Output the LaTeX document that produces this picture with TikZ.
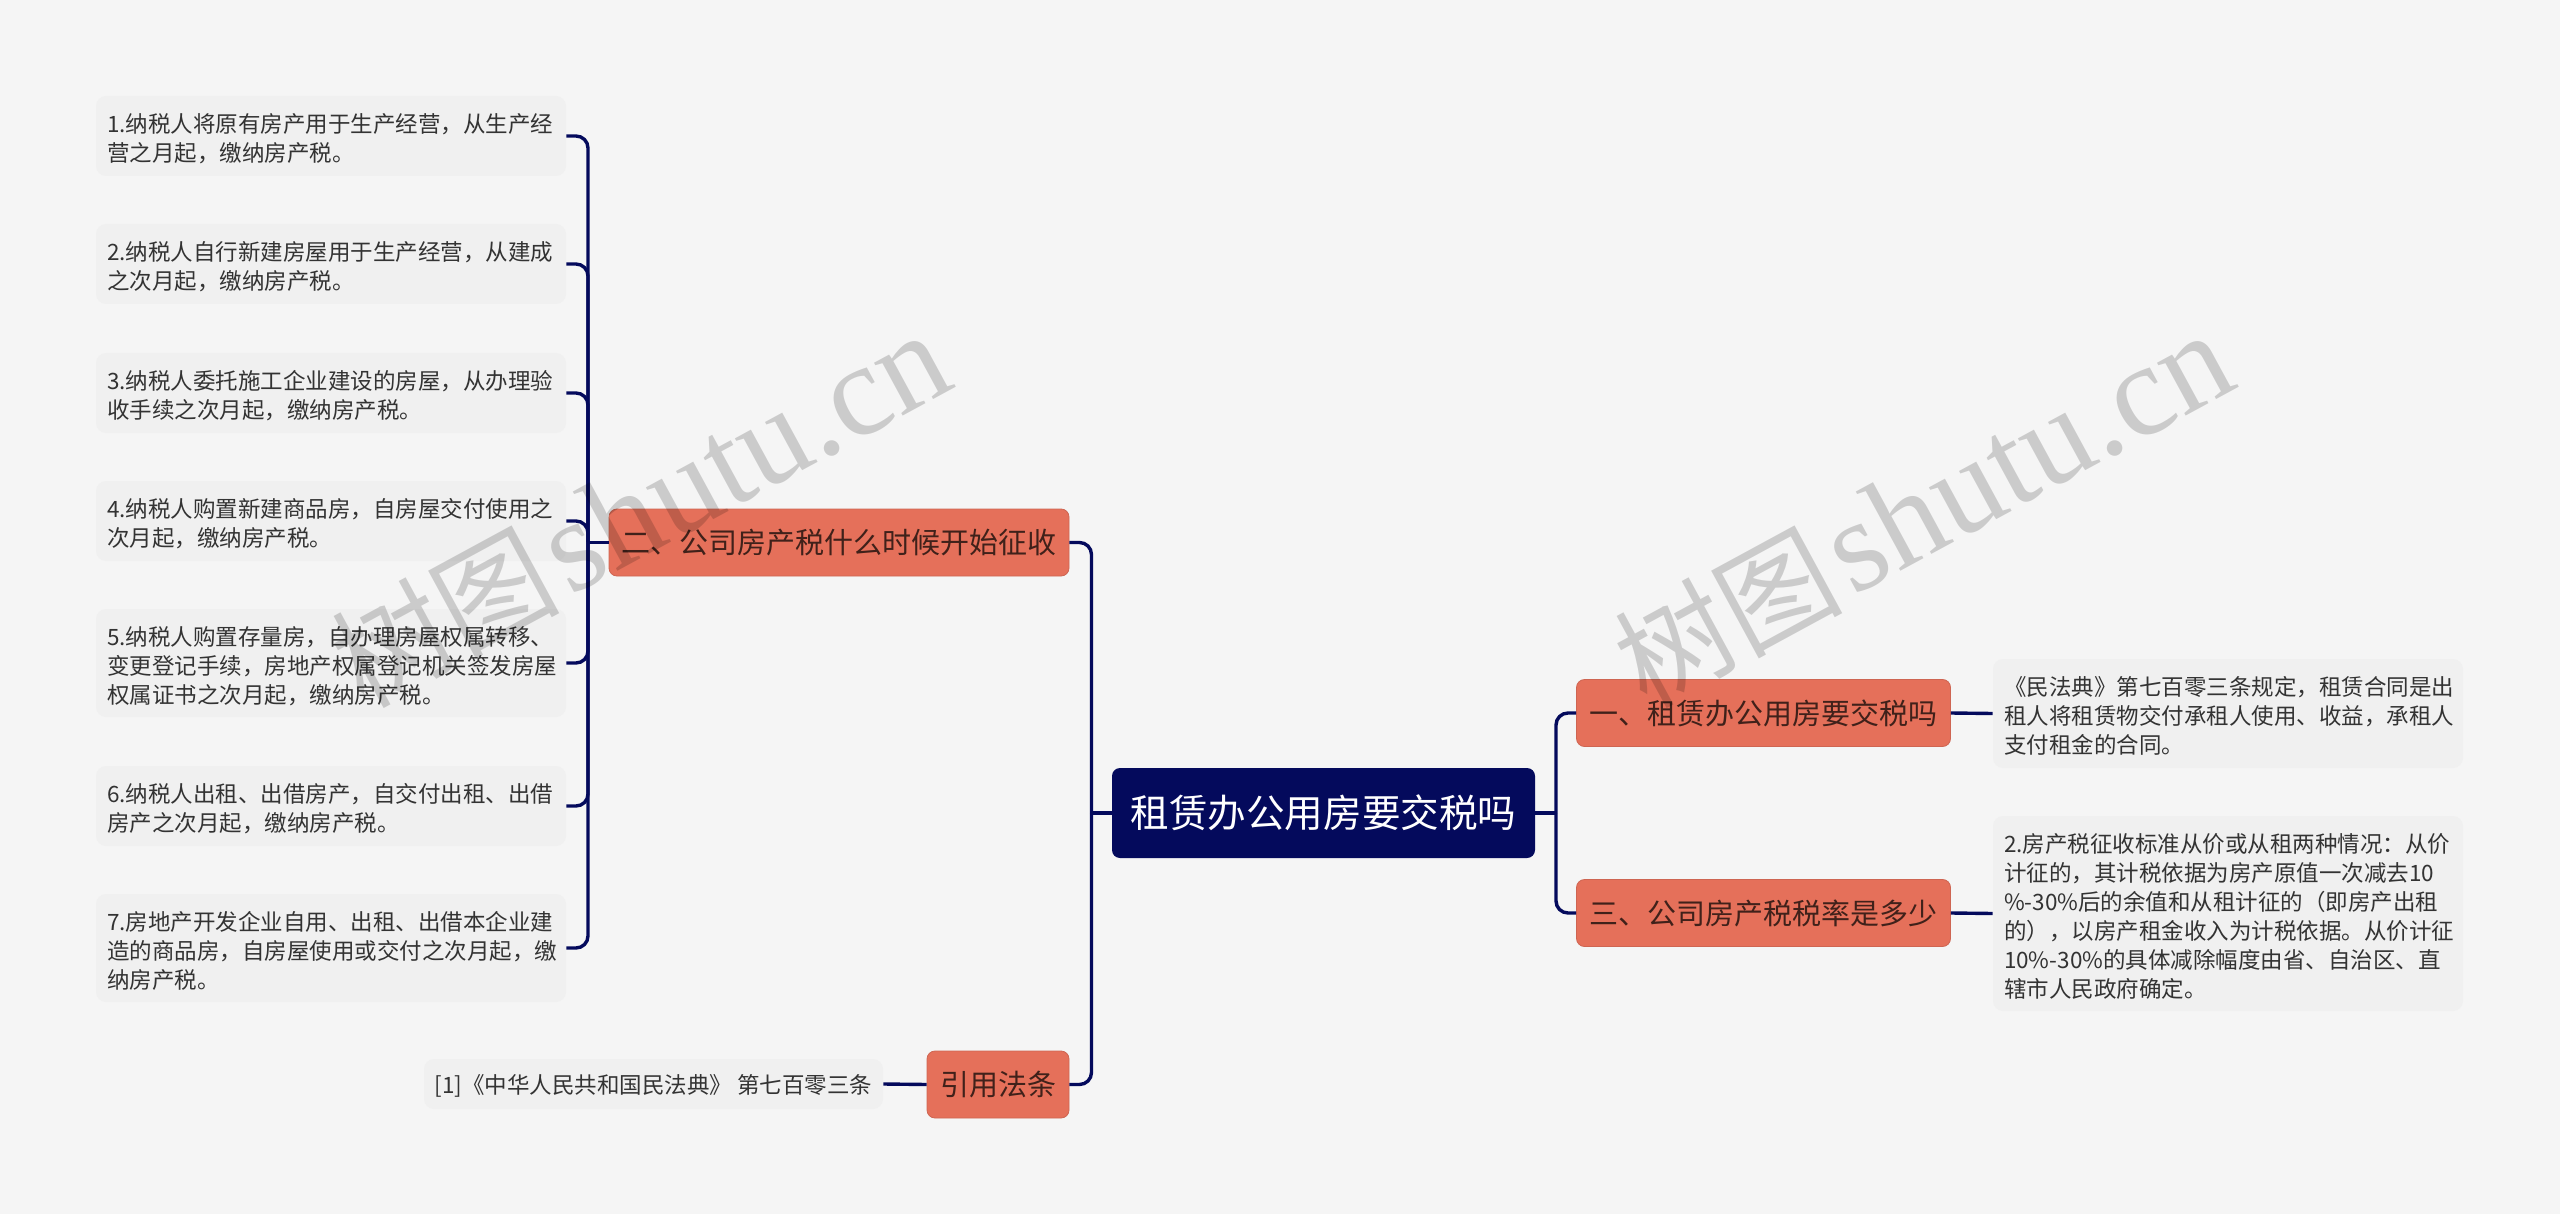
\documentclass[tikz,border=0pt]{standalone}
\usepackage{fontspec}
\usepackage{xcolor}
\setmainfont{Noto Sans CJK SC}
\newfontfamily\markfont{Liberation Serif}
\definecolor{pagebg}{HTML}{F5F5F5}
\definecolor{leafbg}{HTML}{F0F0F0}
\definecolor{navy}{HTML}{040A5C}
\definecolor{salmon}{HTML}{E5705A}
\definecolor{salmonline}{HTML}{CE6552}
\definecolor{branchtext}{HTML}{40211A}
\definecolor{leaftext}{HTML}{333333}

\begin{document}
\begin{tikzpicture}[x=0.5pt,y=-0.5pt,
    rootbox/.style={fill=navy,rounded corners=4pt,text=white,minimum width=211.5pt,minimum height=45pt,font=\fontsize{19.3}{23}\selectfont},
    branch/.style={fill=salmon,draw=salmonline,line width=0.4pt,rounded corners=4pt,text=branchtext,minimum height=33.5pt,font=\fontsize{14.5}{18}\selectfont},
    leaf/.style={fill=leafbg,rounded corners=5pt,text=leaftext,text width=224pt,inner xsep=5.5pt,inner ysep=0pt,align=left,minimum height=#1*0.5pt,font=\fontsize{11.25}{14.5}\selectfont,execute at begin node={\rule{0pt}{12.4pt}}},
    citeleaf/.style={fill=leafbg,rounded corners=5pt,text=leaftext,inner xsep=0pt,minimum width=229.5pt,minimum height=25pt,text depth=0pt,font=\fontsize{11.25}{14.5}\selectfont},
    link/.style={draw=navy,line width=1.7pt,rounded corners=6pt},
    watermark/.style={rotate=28.5,text=black,text opacity=0.17,inner sep=0pt}]
    \fill [pagebg] (0,0) rectangle (2560,1214);

    \node [rootbox] (root) at (1323.5,813) {租赁办公用房要交税吗};

    \node [branch,minimum width=230pt] (taxstart) at (839,542.5) {二、公司房产税什么时候开始征收};
    \node [branch,minimum width=71pt] (lawref) at (998,1084.5) {引用法条};
    \node [branch,minimum width=187pt] (needtax) at (1763.5,713) {一、租赁办公用房要交税吗};
    \node [branch,minimum width=187pt] (taxrate) at (1763.5,913) {三、公司房产税税率是多少};

    \node [leaf=80] (starta) at (331,136) {1.纳税人将原有房产用于生产经营，从生产经\\营之月起，缴纳房产税。};
    \node [leaf=80] (startb) at (331,264) {2.纳税人自行新建房屋用于生产经营，从建成\\之次月起，缴纳房产税。};
    \node [leaf=80] (startc) at (331,393) {3.纳税人委托施工企业建设的房屋，从办理验\\收手续之次月起，缴纳房产税。};
    \node [leaf=80] (startd) at (331,521) {4.纳税人购置新建商品房，自房屋交付使用之\\次月起，缴纳房产税。};
    \node [leaf=108] (starte) at (331,663) {5.纳税人购置存量房，自办理房屋权属转移、\\变更登记手续，房地产权属登记机关签发房屋\\权属证书之次月起，缴纳房产税。};
    \node [leaf=80] (startf) at (331,806) {6.纳税人出租、出借房产，自交付出租、出借\\房产之次月起，缴纳房产税。};
    \node [leaf=108] (startg) at (331,948) {7.房地产开发企业自用、出租、出借本企业建\\造的商品房，自房屋使用或交付之次月起，缴\\纳房产税。};

    \node [citeleaf] (citation) at (653.5,1084) {[1]《中华人民共和国民法典》 第七百零三条};

    \node [leaf=109] (contract) at (2228,713.5) {《民法典》第七百零三条规定，租赁合同是出\\租人将租赁物交付承租人使用、收益，承租人\\支付租金的合同。};
    \node [leaf=195] (ratedetail) at (2228,913.5) {2.房产税征收标准从价或从租两种情况：从价\\计征的，其计税依据为房产原值一次减去10\\\%-30\%后的余值和从租计征的（即房产出租\\的），以房产租金收入为计税依据。从价计征\\10\%-30\%的具体减除幅度由省、自治区、直\\辖市人民政府确定。};

    \coordinate (rootleft) at (1091.5,813);
    \coordinate (rootright) at (1556,813);
    \coordinate (startspine) at (588,542.5);

    \draw [link] (root.west) -- (rootleft);
    \draw [link] (root.east) -- (rootright);
    \draw [link] (rootleft) |- (taxstart.east);
    \draw [link] (rootleft) |- (lawref.east);
    \draw [link] (rootright) |- (needtax.west);
    \draw [link] (rootright) |- (taxrate.west);
    \draw [link] (taxstart.west) -- (startspine);
    \foreach \leafname in {starta,startb,startc,startd,starte,startf,startg}
        \draw [link] (startspine) |- (\leafname.east);
    \draw [link] (lawref.west) -- (citation.east);
    \draw [link] (needtax.east) -- (contract.west);
    \draw [link] (taxrate.east) -- (ratedetail.west);

    \node [watermark] (marka) at (640,510) {\fontsize{57}{60}\selectfont 树图\hspace{4pt}{\markfont\fontsize{65.5}{60}\selectfont shutu.cn}};
    \node [watermark] (markb) at (1923,510) {\fontsize{57}{60}\selectfont 树图\hspace{4pt}{\markfont\fontsize{65.5}{60}\selectfont shutu.cn}};
\end{tikzpicture}
\end{document}
